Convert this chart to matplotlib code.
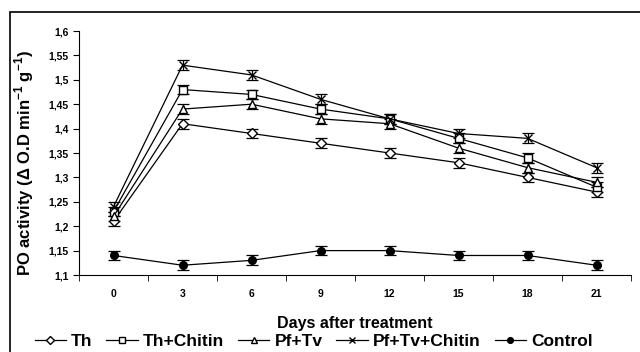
import matplotlib.pyplot as plt
import numpy as np
from matplotlib.patches import Rectangle
from matplotlib.lines import Line2D

days = ['0', '3', '6', '9', '12', '15', '18', '21']
th = [1.21, 1.41, 1.39, 1.37, 1.35, 1.33, 1.30, 1.27]
th_chitin = [1.23, 1.48, 1.47, 1.44, 1.42, 1.38, 1.34, 1.28]
pf_tv = [1.22, 1.44, 1.45, 1.42, 1.41, 1.36, 1.32, 1.29]
pf_tv_chitin = [1.24, 1.53, 1.51, 1.46, 1.42, 1.39, 1.38, 1.32]
control = [1.14, 1.12, 1.13, 1.15, 1.15, 1.14, 1.14, 1.12]
err = 0.01

plt.rcParams['font.family'] = ['Liberation Sans', 'DejaVu Sans']
plt.rcParams['font.weight'] = 'bold'
plt.rcParams['mathtext.fontset'] = 'custom'
plt.rcParams['mathtext.rm'] = 'Liberation Sans:bold'
plt.rcParams['mathtext.bf'] = 'Liberation Sans:bold'

fig = plt.figure(figsize=(6.4, 3.52), dpi=100)
fig.patches.append(Rectangle((10 / 640, -0.1), 1.1, 1 - 12 / 352 + 0.1,
                             transform=fig.transFigure, fill=False,
                             edgecolor='black', linewidth=1.2))
ax = fig.add_axes([79 / 640, 1 - 275 / 352, 552 / 640, 244 / 352])

x = np.arange(len(days))
series = [
    ('Th', th, 'D', 'white', 5),
    ('Th+Chitin', th_chitin, 's', 'white', 5.5),
    ('Pf+Tv', pf_tv, '^', 'white', 6),
    ('Pf+Tv+Chitin', pf_tv_chitin, 'x', 'black', 6),
    ('Control', control, 'o', 'black', 5.5),
]
handles = []
for name, vals, m, fc, ms in series:
    ax.errorbar(x, vals, yerr=err, color='black', marker=m, markersize=ms,
                markerfacecolor=fc, markeredgecolor='black', linewidth=0.9,
                elinewidth=0.9, capsize=4, capthick=0.9)
    handles.append(Line2D([], [], color='black', marker=m, markersize=ms * 0.75,
                          markerfacecolor=fc, markeredgecolor='black',
                          linewidth=0.9, label=name))

ax.set_xlim(-0.5, len(days) - 0.5)
ax.set_ylim(1.1, 1.6)
ax.set_xticks(x)
ax.set_xticklabels(days)
ax.set_xticks(np.arange(-0.5, len(days), 1), minor=True)
ax.tick_params(axis='x', which='major', length=0, pad=10, labelsize=7.5)
ax.tick_params(axis='x', which='minor', length=4, direction='out')
yt = np.arange(1.1, 1.601, 0.05)
ax.set_yticks(yt)
ax.set_yticklabels([f'{v:.2f}'.rstrip('0').replace('.', ',') for v in yt])
ax.tick_params(axis='y', length=4, direction='out', labelsize=7.5)
for s in ['top', 'right']:
    ax.spines[s].set_visible(False)

ax.set_xlabel('Days after treatment', fontsize=11.5, fontweight='bold', labelpad=12)
ax.set_ylabel(r'PO activity ($\Delta$ O.D min$^{-1}$ g$^{-1}$)',
              fontsize=12, fontweight='bold')
ax.yaxis.set_label_coords(-0.078, 0.46)

fig.legend(handles=handles, loc='lower center', bbox_to_anchor=(0.49, -0.035), ncol=5,
           frameon=False, prop={'size': 12.5, 'weight': 'bold'}, handlelength=1.8,
           handletextpad=0.3, columnspacing=0.8)

plt.savefig('out.png', dpi=100)
